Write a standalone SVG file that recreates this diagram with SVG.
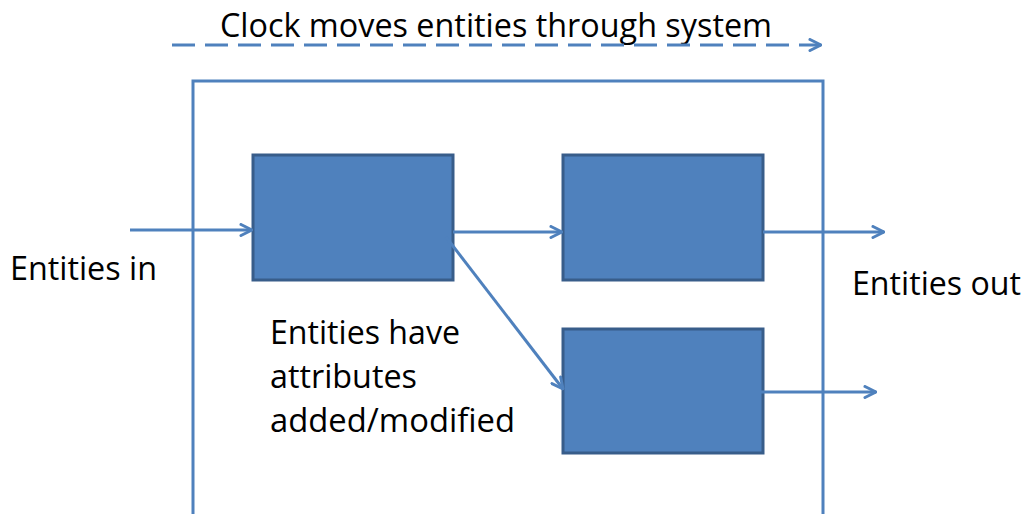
<svg xmlns="http://www.w3.org/2000/svg" width="1028" height="514" viewBox="0 0 1028 514">
<style>
.ln{stroke:#4F81BD;stroke-width:3;fill:none}
.box{fill:#4F81BD;stroke:#385D8A;stroke-width:3}
.t{font-family:"Open Sans","Liberation Sans",sans-serif;font-size:32px;fill:#000}
</style>
<defs>
<marker id="ah" viewBox="0 0 14 14" refX="13" refY="7" markerWidth="14" markerHeight="14" markerUnits="userSpaceOnUse" orient="auto">
<path d="M2,1.5 L13,7 L2,12.5" fill="none" stroke="#4F81BD" stroke-width="3" stroke-linecap="round" stroke-linejoin="round"/>
</marker>
</defs>
<rect width="1028" height="514" fill="#fff"/>
<g id="system-frame">
<path class="ln" d="M193,514 V81 H823 V514"/>
</g>
<g id="clock">
<text class="t" x="220" y="37" textLength="552" lengthAdjust="spacingAndGlyphs">Clock moves entities through system</text>
</g>
<g id="box1"><rect class="box" x="253" y="155" width="200" height="125"/></g>
<g id="box2"><rect class="box" x="563" y="155" width="200" height="125"/></g>
<g id="box3"><rect class="box" x="563" y="329" width="200" height="124"/></g>
<g id="label-in"><text class="t" x="10" y="280" textLength="147" lengthAdjust="spacingAndGlyphs">Entities in</text></g>
<g id="label-out"><text class="t" x="852" y="295" textLength="169" lengthAdjust="spacingAndGlyphs">Entities out</text></g>
<g id="label-attr">
<text class="t" x="270" y="344" textLength="190" lengthAdjust="spacingAndGlyphs">Entities have</text>
<text class="t" x="270" y="388" textLength="147" lengthAdjust="spacingAndGlyphs">attributes</text>
<text class="t" x="270" y="432" textLength="245" lengthAdjust="spacingAndGlyphs">added/modified</text>
</g>
<g id="connectors">
<line class="ln" x1="172" y1="45" x2="821" y2="45" stroke-dasharray="23 10" marker-end="url(#ah)"/>
<line class="ln" x1="130" y1="230" x2="252" y2="230" marker-end="url(#ah)"/>
<line class="ln" x1="453" y1="232" x2="562" y2="232" marker-end="url(#ah)"/>
<line class="ln" x1="446" y1="237" x2="563" y2="389" marker-end="url(#ah)"/>
<line class="ln" x1="763" y1="232" x2="884" y2="232" marker-end="url(#ah)"/>
<line class="ln" x1="760" y1="392" x2="876" y2="392" marker-end="url(#ah)"/>
</g>
</svg>
